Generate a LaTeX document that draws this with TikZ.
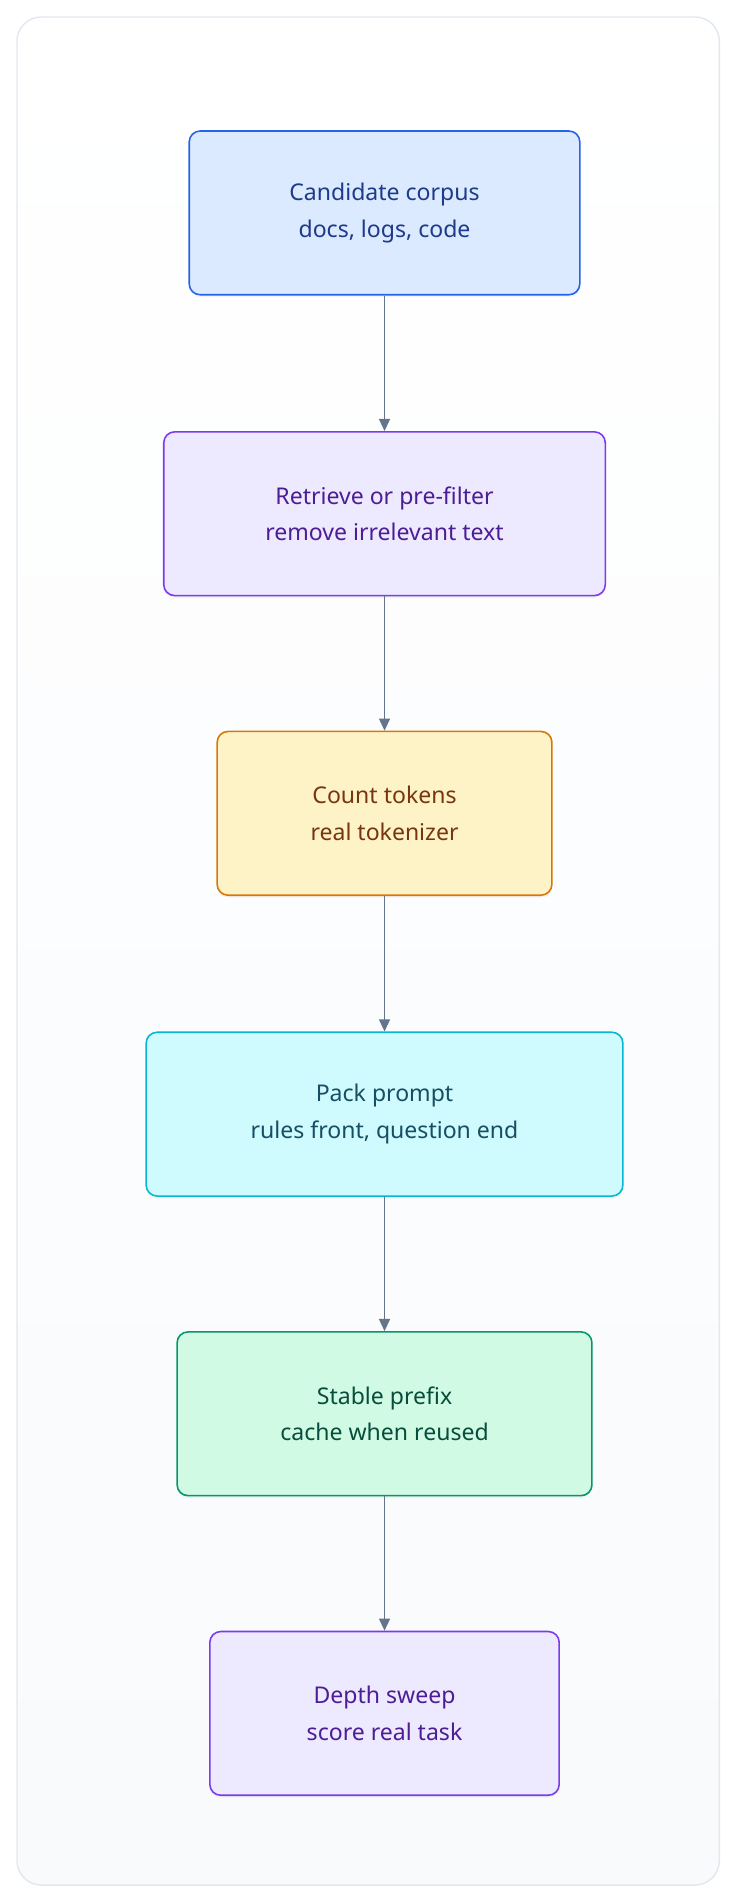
\documentclass[tikz,border=0pt]{standalone}
\usepackage{fontspec}
\setmainfont{Noto Sans}
\usetikzlibrary{arrows.meta,shadows}
\definecolor{ar}{HTML}{64748B}
\tikzset{x=1pt,y=-1pt,
box/.style={draw,line width=1.3pt,rounded corners=9pt,align=center,font=\fontsize{19}{30}\selectfont,inner sep=0pt,drop shadow={shadow xshift=0pt,shadow yshift=-2pt,opacity=0.08}},
arr/.style={draw=ar,line width=1.4pt,-{Triangle[length=10pt,width=9pt]}}}
\begin{document}
\begin{tikzpicture}
\useasboundingbox (0,0) rectangle (608,1568);
\shade[top color=white,bottom color={rgb,255:red,248;green,250;blue,252},draw={rgb,255:red,226;green,232;blue,240},line width=1.2pt,rounded corners=20pt] (14,14) rectangle (593,1554);
\node[box,fill={rgb,255:red,219;green,234;blue,254},draw={rgb,255:red,37;green,99;blue,235},text={rgb,255:red,30;green,58;blue,138},minimum width=322pt,minimum height=135pt] (a) at (317,175.5) {Candidate corpus\\docs, logs, code};
\node[box,fill={rgb,255:red,237;green,233;blue,254},draw={rgb,255:red,124;green,58;blue,237},text={rgb,255:red,76;green,29;blue,149},minimum width=364pt,minimum height=135pt] (b) at (317,423.5) {Retrieve or pre-filter\\remove irrelevant text};
\node[box,fill={rgb,255:red,254;green,243;blue,199},draw={rgb,255:red,217;green,119;blue,6},text={rgb,255:red,120;green,53;blue,15},minimum width=276pt,minimum height=135pt] (c) at (317,670.5) {Count tokens\\real tokenizer};
\node[box,fill={rgb,255:red,207;green,250;blue,254},draw={rgb,255:red,6;green,182;blue,212},text={rgb,255:red,22;green,78;blue,99},minimum width=393pt,minimum height=135pt] (d) at (317,918.5) {Pack prompt\\rules front, question end};
\node[box,fill={rgb,255:red,209;green,250;blue,229},draw={rgb,255:red,5;green,150;blue,105},text={rgb,255:red,6;green,78;blue,59},minimum width=342pt,minimum height=135pt] (e) at (317,1165.5) {Stable prefix\\cache when reused};
\node[box,fill={rgb,255:red,237;green,233;blue,254},draw={rgb,255:red,124;green,58;blue,237},text={rgb,255:red,76;green,29;blue,149},minimum width=288pt,minimum height=135pt] (f) at (317,1412.5) {Depth sweep\\score real task};
\draw[arr] (a) -- (b);
\draw[arr] (b) -- (c);
\draw[arr] (c) -- (d);
\draw[arr] (d) -- (e);
\draw[arr] (e) -- (f);
\end{tikzpicture}
\end{document}
